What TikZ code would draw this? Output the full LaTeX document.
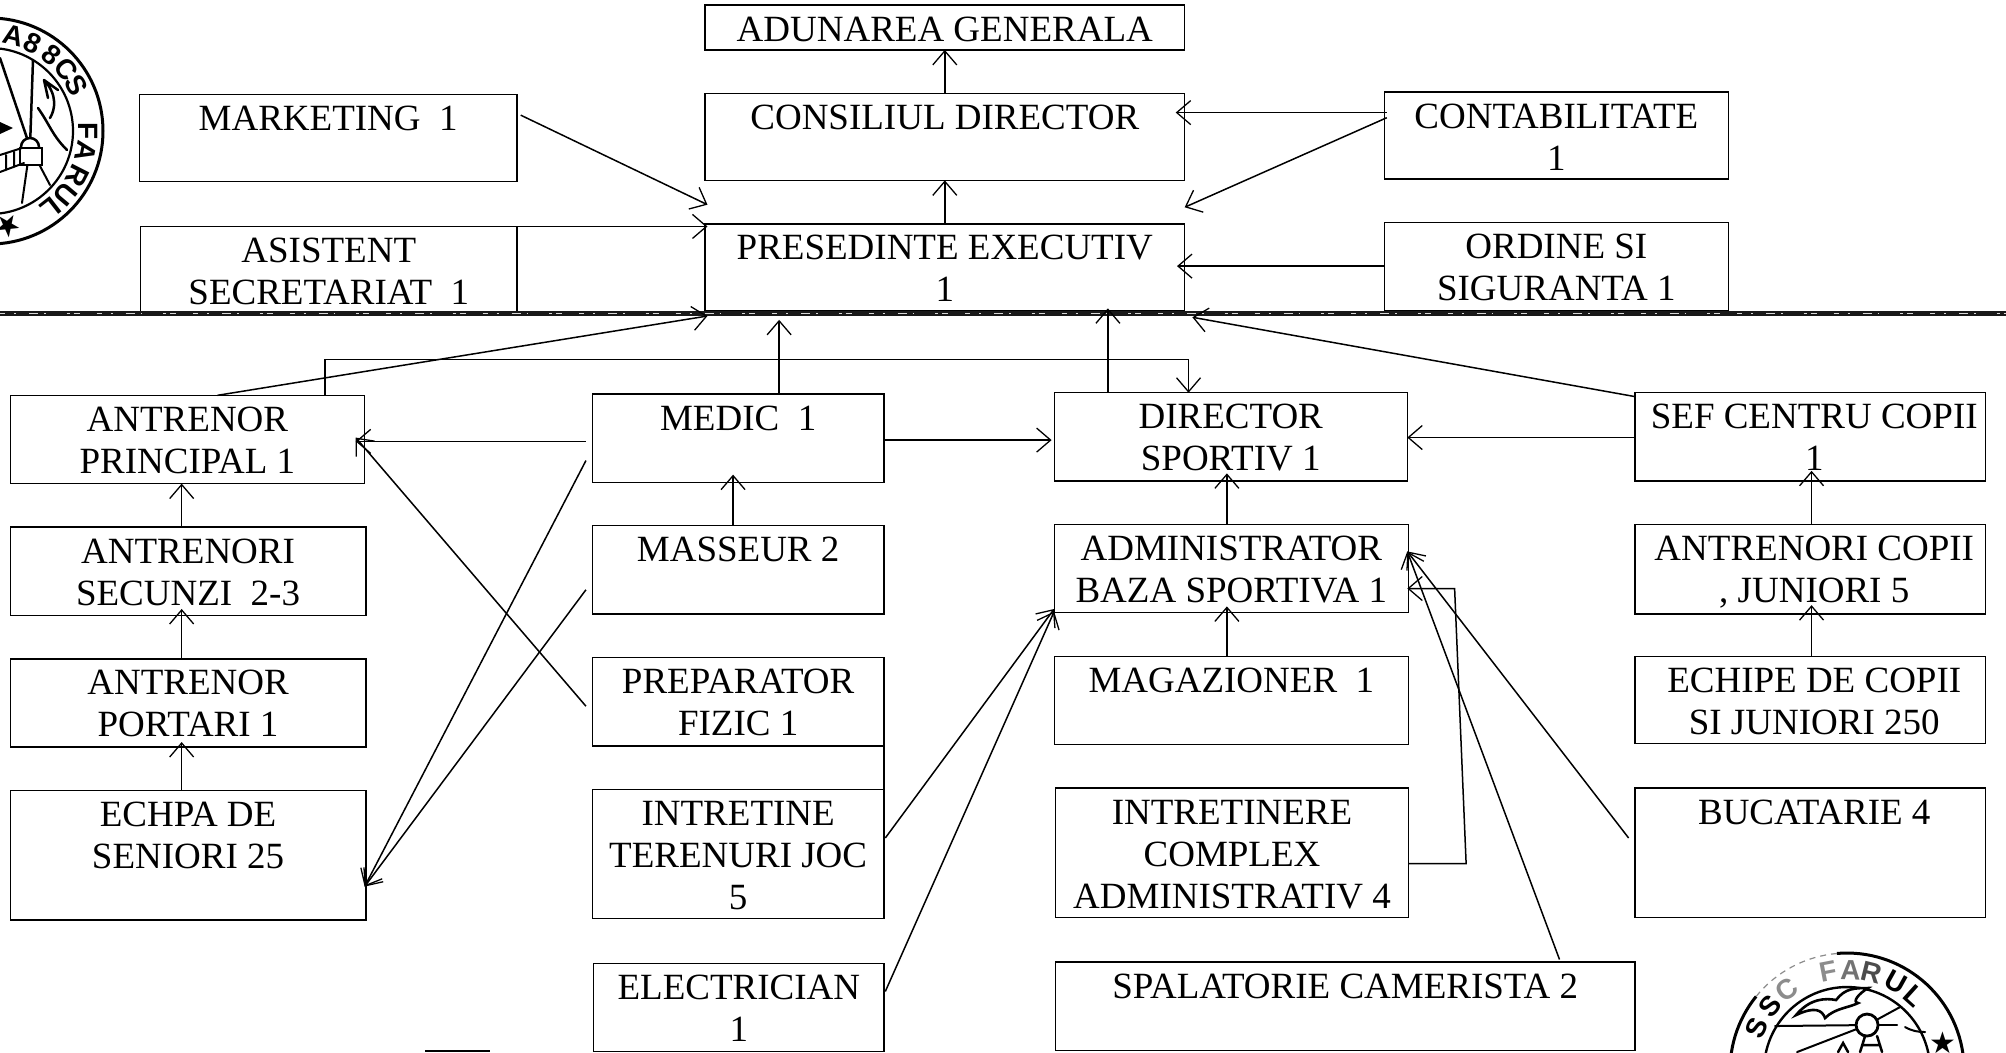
\documentclass[tikz,border=0pt]{standalone}
\usepackage{fontspec}
\setmainfont{Liberation Serif}
\newfontfamily\sealsans{Liberation Sans}
\newfontfamily\sealsym{DejaVu Sans}
\usetikzlibrary{arrows.meta,calc}
\tikzset{x=1.2793pt,y=-1.2793pt,
 boxstyle/.style={draw=black,line width=1.3pt,inner sep=0pt,outer sep=0pt,anchor=north west,font=\fontsize{37}{42}\selectfont},
 link/.style={draw=black,line width=1.5pt,-{Straight Barb[length=14pt,width=24pt,line width=1.3pt]}},
 sealring/.style={draw=black,line width=3pt,fill=none},
 sealthin/.style={draw=black,line width=2pt,line cap=round},
 sealletter/.style={font=\fontsize{28}{28}\selectfont\sealsans\bfseries,inner sep=0pt},
 sealstar/.style={font=\fontsize{30}{30}\selectfont\sealsym,inner sep=0pt}}
\newcommand{\bx}[6]{%
 \pgfmathsetlengthmacro{\bw}{(#4-#2)*1.2793pt}%
 \pgfmathsetlengthmacro{\bh}{(#5-#3)*1.2793pt}%
 \node[boxstyle] (#1) at (#2,#3) {\parbox[c][\bh][t]{\bw}{\centering\rule{0pt}{36pt}#6}};}
\newcommand{\rs}{\hspace*{8pt}}
\begin{document}
\begin{tikzpicture}
\useasboundingbox (0,0) rectangle (1568,822.3);
\clip (0,0) rectangle (1568,822.3);
% boxes
\bx{ag}{551}{4}{926}{39}{ADUNAREA GENERALA}
\bx{cd}{551}{73}{926}{141}{CONSILIUL DIRECTOR}
\bx{mk}{109}{74}{404}{142}{MARKETING\ \ 1}
\bx{as}{110}{177}{404}{244}{ASISTENT\\SECRETARIAT\ \ 1}
\bx{pe}{551}{175}{926}{243}{PRESEDINTE EXECUTIV\\1}
\bx{ct}{1082}{72}{1351}{140}{CONTABILITATE\\1}
\bx{os}{1082}{174}{1351}{243}{ORDINE SI\\SIGURANTA 1}
\bx{ap}{8}{309}{285}{378}{ANTRENOR\\PRINCIPAL 1}
\bx{md}{463}{308}{691}{377}{MEDIC\ \ 1}
\bx{ds}{824}{307}{1100}{376}{DIRECTOR\\SPORTIV 1}
\bx{sf}{1278}{307}{1552}{376}{\rs SEF CENTRU COPII\\\rs 1}
\bx{an}{8}{412}{286}{481}{ANTRENORI\\SECUNZI\ \ 2-3}
\bx{ms}{463}{411}{691}{480}{MASSEUR 2}
\bx{ad}{824}{410}{1101}{479}{ADMINISTRATOR\\BAZA SPORTIVA 1}
\bx{ac}{1278}{410}{1552}{480}{\rs ANTRENORI COPII\\\rs , JUNIORI 5}
\bx{po}{8}{515}{286}{584}{ANTRENOR\\PORTARI 1}
\bx{pr}{463}{514}{691}{583}{PREPARATOR\\FIZIC 1}
\bx{mg}{824}{513}{1101}{582}{MAGAZIONER\ \ 1}
\bx{ej}{1278}{513}{1552}{581}{\rs ECHIPE DE COPII\\\rs SI JUNIORI 250}
\bx{es}{8}{618}{286}{719}{ECHPA DE\\SENIORI 25}
\bx{it}{463}{617}{691}{718}{INTRETINE\\TERENURI JOC\\5}
\bx{ic}{825}{616}{1101}{717}{INTRETINERE\\COMPLEX\\ADMINISTRATIV 4}
\bx{bu}{1278}{616}{1552}{717}{\rs BUCATARIE 4}
\bx{el}{464}{753}{691}{822}{ELECTRICIAN\\1}
\bx{sp}{825}{752}{1278}{821}{SPALATORIE CAMERISTA 2}
\draw[line width=1.3pt] (pr.south east) -- (it.north east);
% band
\coordinate (bandL) at (0,245);
\coordinate (bandR) at (1568,245);
\draw[line width=5pt,black!90] (bandL) -- (bandR);
\draw[line width=1.4pt,white!85!black,dash pattern=on 5pt off 9pt on 2pt off 13pt on 9pt off 6pt on 1.5pt off 21pt on 3pt off 4pt on 6pt off 17pt] (bandL) -- (bandR);
% top connectors
\draw[link] (cd.north) -- (ag.south);
\draw[link] (pe.north) -- (cd.south);
\draw[link] ($(mk.north east)+(3,16)$) -- ($(pe.north west)+(2,-15)$);
\draw[link] (as.north east) -- ($(pe.north west)+(2,2)$);
\draw[link] ($(ct.north west)+(2,16)$) -- ($(cd.north east)+(-7,15)$);
\draw[link] ($(ct.north west)+(2,20)$) -- ($(cd.south east)+(0,21)$);
\draw[link] ($(os.north west)+(0,34)$) -- ($(pe.north east)+(-6,33)$);
% to president
\draw[link] ($(ap.north west)+(162,0)$) -- ($(pe.south west)+(2,4)$);
\draw[link] ($(md.north west)+(146,0)$) -- ($(pe.south west)+(58,7)$);
\draw[link] ($(ds.north west)+(42,0)$) -- ($(pe.south east)+(-60,-2)$);
\draw[link] ($(sf.north west)+(0,3)$) -- ($(pe.south east)+(6,5)$);
\draw[link] ($(ap.north west)+(246,0)$) -- ($(ap.north west)+(246,-28)$) -| ($(ds.north west)+(105,0)$);
% horizontals
\draw[link] ($(md.north west)+(-5,37)$) -- ($(ap.north east)+(-7,36)$);
\draw[link] ($(md.north east)+(1,36)$) -- ($(ds.north west)+(-2,37)$);
\draw[link] ($(sf.north west)+(0,35)$) -- ($(ds.north east)+(0,35)$);
% ladders
\draw[link] ($(ms.north west)+(110,0)$) -- ($(md.south west)+(110,-6)$);
\draw[link] ($(ad.north west)+(135,0)$) -- ($(ds.south west)+(135,-6)$);
\draw[link] ($(ac.north west)+(138,0)$) -- ($(sf.south west)+(138,-8)$);
\draw[link] ($(an.north west)+(134,0)$) -- ($(ap.south west)+(134,0)$);
\draw[link] ($(po.north west)+(134,0)$) -- ($(an.south west)+(134,-5)$);
\draw[link] ($(es.north west)+(134,0)$) -- ($(po.south west)+(134,-4)$);
\draw[link] ($(mg.north west)+(135,0)$) -- ($(ad.south west)+(135,-5)$);
\draw[link] ($(ej.north west)+(138,0)$) -- ($(ac.south west)+(138,-7)$);
% diagonals
\draw[link] ($(pr.north west)+(-5,38)$) -- ($(ap.north east)+(-7,33)$);
\draw[link] ($(md.north west)+(-5,52)$) -- ($(es.north east)+(-1,75)$);
\draw[link] ($(ms.north west)+(-5,50)$) -- ($(es.north east)+(-1,75)$);
\draw[link] ($(it.north east)+(1,38)$) -- ($(ad.south west)+(0,-3)$);
\draw[link] ($(el.north east)+(1,22)$) -- ($(ad.south west)+(0,-1)$);
\draw[link] ($(ic.north east)+(0,59)$) -- ($(ic.north east)+(45,59)$) -- ($(ad.north east)+(36,50)$) -- ($(ad.north east)+(-1,50)$);
\draw[link] ($(sp.north east)+(-59,-2)$) -- ($(ad.north east)+(-1,21)$);
\draw[link] ($(bu.north west)+(-5,39)$) -- ($(ad.north east)+(-1,21)$);
% seals, in full-size pixels
\begin{scope}[x=1pt,y=-1pt]
 % top left
 \coordinate (lc) at (-10,131);
 \draw[sealring] (lc) circle (113);
 \draw[sealring,line width=2.2pt] (lc) circle (83);
 \foreach \a/\l/\i in {14/A/1,26/8/2,39/8/3,51/C/4,62/S/5,90/F/6,102/A/7,117/R/8,130/U/9,142/L/10}
   \node[sealletter,rotate=-\a] (ls\i) at ($(lc)+(\a-90:98)$) {\l};
 \node[sealstar,rotate=-30] (lstar) at (9,225) {★};
 \coordinate (lh) at (30,147);
 \draw[sealthin,line width=2.5pt] (lh) -- (33,60);
 \draw[sealthin,line width=2.5pt] (lh) -- (0,58);
 \draw[sealthin] (lh) -- (22,203);
 \draw[sealthin] (lh) -- (50,185);
 \draw[sealthin,line width=2.5pt,fill=white] (lh) circle (9);
 \draw[sealthin,line width=2.5pt,fill=white] (20,148) rectangle (42,165);
 \draw[sealthin] (0,155) -- (22,148) (0,172) -- (24,163) (6,155) -- (6,170) (14,152) -- (14,167);
 \fill (0,122) -- (13,128) -- (0,134) -- cycle;
 \draw[sealthin,line width=2.5pt] (44,80) .. controls (58,95) and (55,110) .. (50,118) (38,108) .. controls (50,125) and (52,135) .. (67,150) (44,80) -- (48,98) (44,80) -- (58,90);
 % bottom right
 \coordinate (rc) at (1847,1070);
 \draw[sealring] (rc) ++(-95:117) arc (-95:219:117);
 \draw[line width=1.2pt,black!45,dash pattern=on 6pt off 5pt] (rc) ++(219:117) arc (219:265:117);
 \draw[sealring,line width=2.4pt] (rc) circle (83);
 \foreach \a/\l/\i/\g in {-65/S/1/100,-50/S/2/100,-37/C/3/45,-11/F/4/45,2/A/5/55,14/R/6/70,29/U/7/100,42/L/8/100}
   \node[sealletter,text=black!\g,rotate=-\a] (rs\i) at ($(rc)+(\a-90:100)$) {\l};
 \node[sealstar] (rstar) at (1943,1043) {★};
 \coordinate (rh) at (1867,1025);
 \draw[sealthin] (rh) -- (1775,1026);
 \draw[sealthin] (rh) -- (1900,1007);
 \draw[sealthin] (rh) -- (1797,1052);
 \draw[sealthin] (rh) -- (1897,1025);
 \draw[sealthin,line width=2.8pt,fill=white] (rh) circle (11);
 \draw[sealthin,line width=2.5pt] (1865,1036) -- (1860,1052) (1877,1036) -- (1882,1052) (1862,1045) -- (1880,1045);
 \draw[sealthin,line width=2.5pt] (1838,1052) -- (1843,1043) -- (1848,1052);
 \draw[sealthin] (1905,1027) .. controls (1912,1031) and (1918,1032) .. (1925,1032);
 \draw[sealthin,line width=2.6pt,fill=white] (1796,1015) .. controls (1810,998) and (1826,998) .. (1836,1000) .. controls (1845,988) and (1855,988) .. (1868,988) .. controls (1858,994) and (1852,1002) .. (1858,1003) .. controls (1848,1008) and (1835,1008) .. (1825,1018) .. controls (1822,1010) and (1815,1006) .. (1796,1015) -- cycle;
 % bottom mark
 \coordinate (markL) at (425,1051);
 \coordinate (markR) at (490,1051);
 \draw[line width=2pt] (markL) -- (markR);
\end{scope}
\end{tikzpicture}
\end{document}
